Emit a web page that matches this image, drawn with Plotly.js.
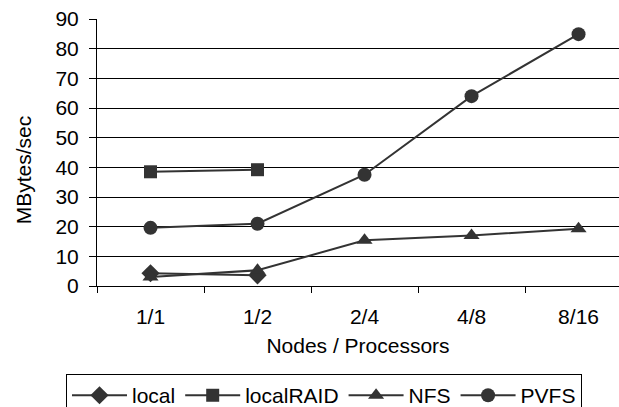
<!DOCTYPE html>
<html><head><meta charset="utf-8">
<script src="https://cdn.plot.ly/plotly-3.0.1.min.js"></script>
<style>html,body{margin:0;padding:0;background:#fff;}#chart{width:619px;height:407px;}</style>
</head><body><div id="chart"></div>
<script>
var categories = ['1/1', '1/2', '2/4', '4/8', '8/16'];
var localVals = [4.3, 3.6, null, null, null];
var localRAIDVals = [38.5, 39.2, null, null, null];
var nfsVals = [3.0, 5.3, 15.4, 17.0, 19.3];
var pvfsVals = [19.6, 21.0, 37.5, 64.0, 84.9];
var yTicks = [0, 10, 20, 30, 40, 50, 60, 70, 80, 90];
var gridTicks = [10, 20, 30, 40, 50, 60, 70, 80];

var lineStyle = {color: '#333333', width: 2};
function tr(name, vals, sym, size) {
  return {x: categories, y: vals, name: name, type: 'scatter', mode: 'lines+markers',
    line: lineStyle, marker: {symbol: sym, size: size, color: '#333333'}, connectgaps: false};
}
var data = [
  tr('local', localVals, 'diamond', 14),
  tr('localRAID', localRAIDVals, 'square', 13),
  tr('NFS', nfsVals, 'triangle-up', 14),
  tr('PVFS', pvfsVals, 'circle', 14)
];
var font = {family: '"Liberation Sans", Arial, sans-serif', size: 21, color: '#000'};
var pad = '\u00a0\u00a0\u00a0\u00a0\u00a0\u00a0\u200b';
var layout = {
  width: 619, height: 407,
  margin: {l: 97, r: 0, t: 19, b: 121, autoexpand: false},
  paper_bgcolor: '#fff', plot_bgcolor: '#fff',
  font: font,
  showlegend: true,
  legend: {orientation: 'h', x: -0.0594, y: -0.33, xanchor: 'left', yanchor: 'top',
    bordercolor: '#000', borderwidth: 1, font: font, traceorder: 'normal',
    itemwidth: 55, tracegroupgap: 0},
  xaxis: {type: 'category', range: [-0.5, 4.378], showgrid: false, showline: true,
    linecolor: '#000', linewidth: 1, ticks: 'outside', tickson: 'boundaries',
    ticklen: 6, tickcolor: '#000', tickfont: font, zeroline: false, ticklabelstandoff: 12,
    title: {text: 'Nodes / Processors', font: font, standoff: 11}},
  yaxis: {range: [0, 90], tickvals: yTicks, showgrid: false, showline: true,
    linecolor: '#000', linewidth: 1, ticks: 'outside', ticklen: 7, tickcolor: '#000',
    tickfont: font, zeroline: false, ticklabelstandoff: 6,
    title: {text: 'MBytes/sec' + pad, font: font, standoff: 18}},
  yaxis2: {range: [0, 90], overlaying: 'y', tickvals: gridTicks, showgrid: true,
    gridcolor: '#000', gridwidth: 1, showticklabels: false, ticks: '', showline: false,
    zeroline: false, layer: 'below traces'}
};
data.push({x: [categories[0]], y: [null], yaxis: 'y2', showlegend: false, hoverinfo: 'skip', type: 'scatter', mode: 'lines'});
Plotly.newPlot('chart', data, layout, {displayModeBar: false, staticPlot: true});
</script></body></html>
